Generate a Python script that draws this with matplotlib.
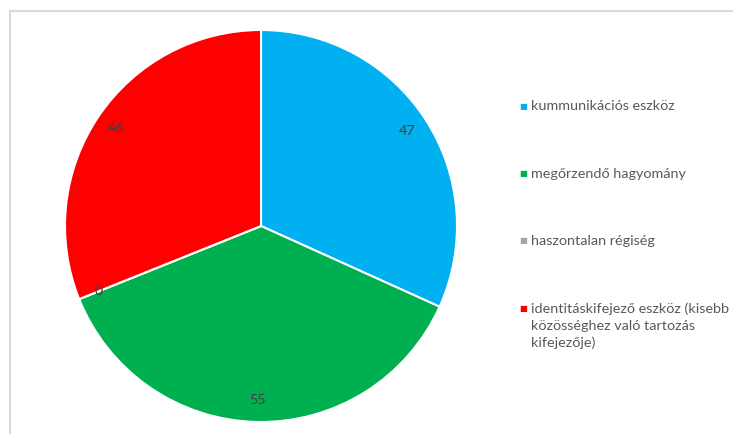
import matplotlib.pyplot as plt
from matplotlib.lines import Line2D

labels = ['kummunikációs eszköz', 'megőrzendő hagyomány', 'haszontalan régiség',
          'identitáskifejező eszköz (kisebb\nközösséghez való tartozás\nkifejezője)']
values = [47, 55, 0, 46]
colors = ['#00B0F0', '#00B050', '#A5A5A5', '#FF0000']

plt.rcParams['font.family'] = ['Lato', 'DejaVu Sans']

W, H = 733, 434
fig = plt.figure(figsize=(W / 100, H / 100), dpi=100)

# pie area: centre (261, 226), radius ~196 px
cx, cy, r = 261, 226, 196
ax = fig.add_axes([(cx - r) / W, 1 - (cy + r) / H, 2 * r / W, 2 * r / H])
wedges, texts = ax.pie(values, colors=colors, startangle=90, counterclock=False,
                       labels=[str(v) for v in values], labeldistance=0.89,
                       wedgeprops=dict(edgecolor='white', linewidth=1.5),
                       textprops=dict(color='#404040', fontsize=10.3))
for t in texts:
    t.set_ha('center')
    t.set_va('center')
ax.set_aspect('equal')
ax.set_xlim(-1, 1)
ax.set_ylim(-1, 1)

# chart frame (top and left edges)
fig.add_artist(Line2D([10 / W, 1], [1 - 10.5 / H, 1 - 10.5 / H], color='#D9D9D9', lw=1.5))
fig.add_artist(Line2D([10 / W, 10 / W], [0, 1 - 10.5 / H], color='#D9D9D9', lw=1.5))

# legend
ys = [106, 174, 241, 309]
for lab, col, y in zip(labels, colors, ys):
    fig.text(523 / W, 1 - y / H, '\u25A0', color=col, fontsize=6, ha='center', va='center',
             family='DejaVu Sans')
    for i, line in enumerate(lab.split('\n')):
        fig.text(531 / W, 1 - (y + 17 * i) / H, line, color='#595959', fontsize=10.4,
                 ha='left', va='center')

fig.savefig('out.png', dpi=100)
